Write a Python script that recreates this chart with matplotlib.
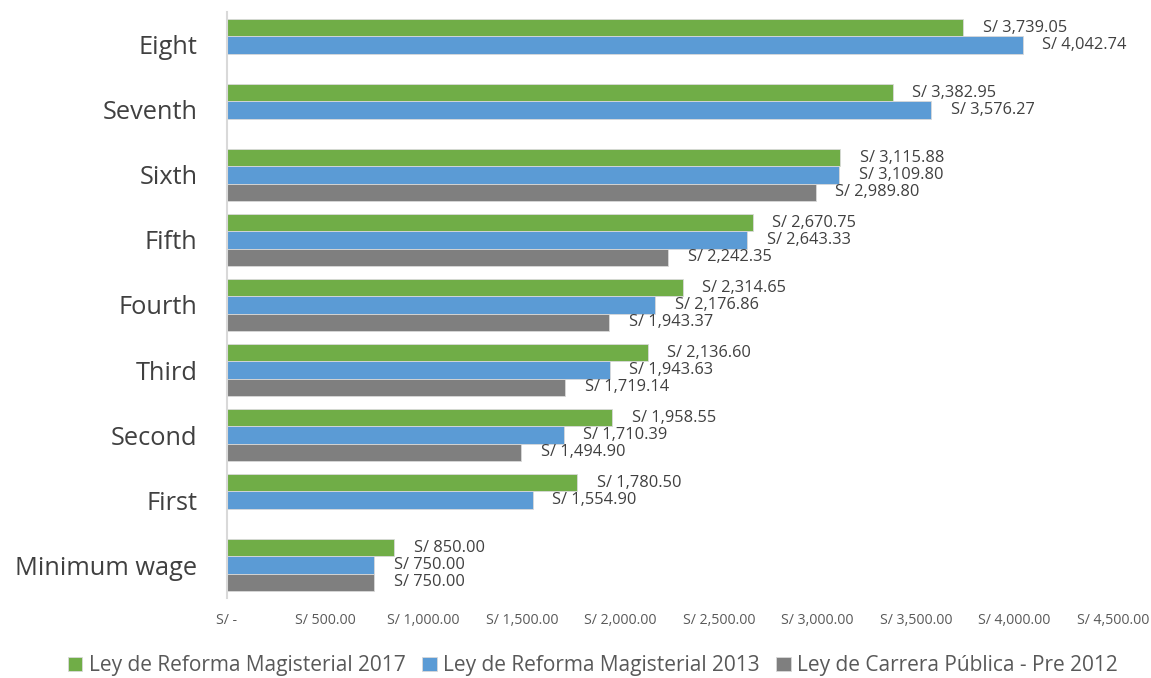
import numpy as np
import matplotlib.pyplot as plt
from matplotlib.ticker import FuncFormatter

categories = ["Minimum wage", "First", "Second", "Third", "Fourth",
              "Fifth", "Sixth", "Seventh", "Eight"]
ley2017 = [850.00, 1780.50, 1958.55, 2136.60, 2314.65, 2670.75, 3115.88, 3382.95, 3739.05]
ley2013 = [750.00, 1554.90, 1710.39, 1943.63, 2176.86, 2643.33, 3109.80, 3576.27, 4042.74]
pre2012 = [750.00, np.nan, 1494.90, 1719.14, 1943.37, 2242.35, 2989.80, np.nan, np.nan]

series = [
    ("Ley de Reforma Magisterial 2017", ley2017, "#70AD47"),
    ("Ley de Reforma Magisterial 2013", ley2013, "#5B9BD5"),
    ("Ley de Carrera Pública - Pre 2012", pre2012, "#7F7F7F"),
]

plt.rcParams['font.family'] = ['Open Sans', 'DejaVu Sans']

fig = plt.figure(figsize=(11.51, 6.78), dpi=100)
ax = fig.add_axes([0.197, 0.1187, 0.77, 0.8629])

y = np.arange(len(categories))
h = 0.267
offsets = [h, 0, -h]

for (name, vals, col), off in zip(series, offsets):
    vals = np.array(vals, dtype=float)
    ax.barh(y + off, vals, height=h, color=col, edgecolor="#D9D9D9",
            linewidth=0.6, label=name)
    for yi, v in zip(y, vals):
        if np.isnan(v):
            continue
        ax.annotate(f"S/ {v:,.2f}", (v, yi + off), xytext=(14, 0),
                    textcoords="offset points", va="center", ha="left",
                    fontsize=11.8, color="#404040")

ax.set_xlim(0, 4500)
ax.set_ylim(-0.5, 8.5)
ax.set_xticks(np.arange(0, 4501, 500))
ax.xaxis.set_major_formatter(FuncFormatter(
    lambda v, p: "S/ -" if v == 0 else f"S/ {v:,.2f}"))
ax.set_yticks(y)
ax.set_yticklabels(categories)
ax.tick_params(axis="x", length=0, labelsize=10.2, labelcolor="#595959", pad=11)
ax.tick_params(axis="y", length=0, labelsize=18.3, labelcolor="#404040", pad=21)

for s in ["top", "right", "bottom"]:
    ax.spines[s].set_visible(False)
ax.spines["left"].set_color("#D9D9D9")
ax.spines["left"].set_linewidth(1.5)

fig.legend(loc="lower center", bbox_to_anchor=(0.515, -0.025), ncol=3,
           frameon=False, fontsize=15, handlelength=0.7, handleheight=0.7,
           handletextpad=0.3, columnspacing=0.8, labelcolor="#595959")

fig.savefig("out.png", dpi=100)
